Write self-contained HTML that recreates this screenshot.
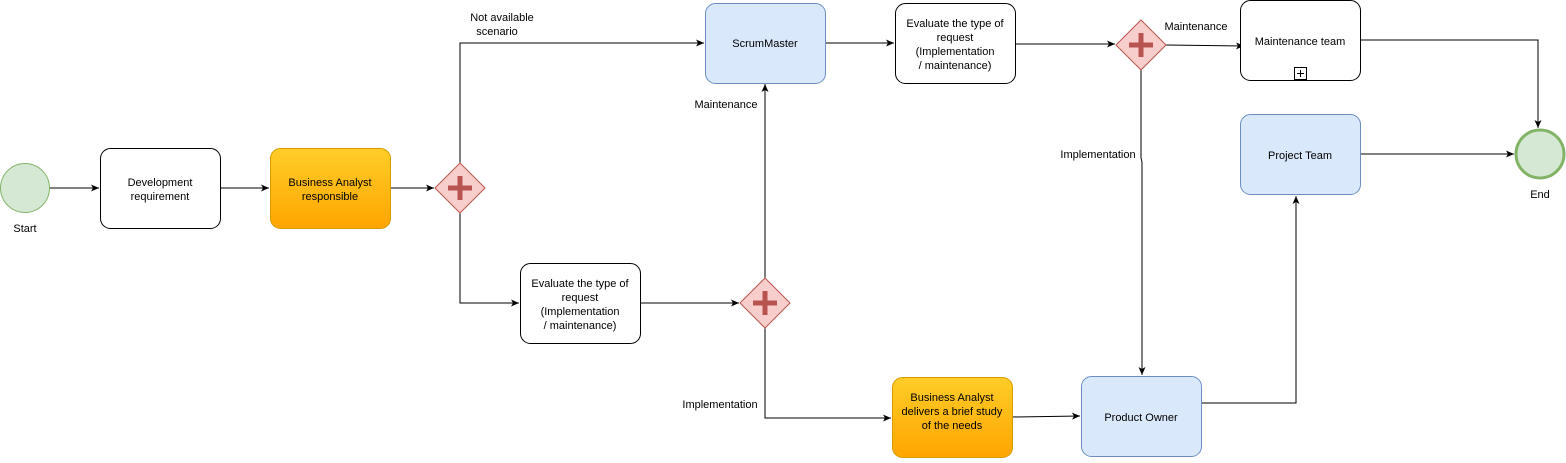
<!DOCTYPE html>
<html><head><meta charset="utf-8"><style>
html,body{margin:0;padding:0;background:#fff;}
text{font-family:"Liberation Sans",sans-serif;font-size:11px;fill:#000;}
</style></head><body>
<svg width="1566" height="458" viewBox="0 0 1566 458" xmlns="http://www.w3.org/2000/svg">
<defs>
<linearGradient id="og" x1="0" y1="0" x2="0" y2="1"><stop offset="0" stop-color="#ffcd28"/><stop offset="1" stop-color="#ffa500"/></linearGradient>
<marker id="a" markerWidth="10" markerHeight="10" refX="8" refY="5" orient="auto" markerUnits="userSpaceOnUse"><path d="M0,1.5 L8,5 L0,8.5 L2,5 Z" fill="#000"/></marker>
<g id="gw"><path d="M0,-25 L25,0 L0,25 L-25,0 Z" fill="#f8cecc" stroke="#b85450"/><path d="M-2.5,-12 h5 v9.5 h9.5 v5 h-9.5 v9.5 h-5 v-9.5 h-9.5 v-5 h9.5 z" fill="#b85450"/></g>
</defs>
<g fill="none" stroke="#000" stroke-width="1">
<path d="M50,188 H99" marker-end="url(#a)"/>
<path d="M220,188 H269" marker-end="url(#a)"/>
<path d="M390,188 H434" marker-end="url(#a)"/>
<path d="M460,163 V43 H704" marker-end="url(#a)"/>
<path d="M460,213 V303 H519" marker-end="url(#a)"/>
<path d="M640,303 H739" marker-end="url(#a)"/>
<path d="M765,278 V84" marker-end="url(#a)"/>
<path d="M765,328 V418 H891" marker-end="url(#a)"/>
<path d="M1012,417 L1080,416" marker-end="url(#a)"/>
<path d="M1201,403 H1296 V196" marker-end="url(#a)"/>
<path d="M1360,154 H1514" marker-end="url(#a)"/>
<path d="M825,43 H894" marker-end="url(#a)"/>
<path d="M1015,44 H1115" marker-end="url(#a)"/>
<path d="M1166,45 L1244,46" marker-end="url(#a)"/>
<path d="M1360,40 H1538 V128" marker-end="url(#a)"/>
<path d="M1141,70 V158 L1142,162 V375" marker-end="url(#a)"/>
</g>
<circle cx="25" cy="188" r="24.5" fill="#d5e8d4" stroke="#82b366"/>
<circle cx="1540" cy="154" r="24" fill="#d5e8d4" stroke="#82b366" stroke-width="3"/>
<rect x="100.5" y="148.5" width="120" height="80" rx="10" fill="#fff" stroke="#000"/>
<rect x="270.5" y="148.5" width="120" height="80" rx="10" fill="url(#og)" stroke="#d79b00"/>
<rect x="520.5" y="263.5" width="120" height="80" rx="10" fill="#fff" stroke="#000"/>
<rect x="705.5" y="3.5" width="120" height="80" rx="10" fill="#dae8fc" stroke="#6c8ebf"/>
<rect x="895.5" y="3.5" width="120" height="80" rx="10" fill="#fff" stroke="#000"/>
<rect x="1240.5" y="0.5" width="120" height="80" rx="10" fill="#fff" stroke="#000"/>
<rect x="1294.5" y="67.5" width="12" height="12" fill="#fff" stroke="#000"/>
<path d="M1300.5,70 V77 M1297,73.5 H1304" stroke="#000"/>
<rect x="1240.5" y="114.5" width="120" height="80" rx="10" fill="#dae8fc" stroke="#6c8ebf"/>
<rect x="892.5" y="377.5" width="120" height="80" rx="10" fill="url(#og)" stroke="#d79b00"/>
<rect x="1081.5" y="376.5" width="120" height="80" rx="10" fill="#dae8fc" stroke="#6c8ebf"/>
<use href="#gw" x="460" y="188"/>
<use href="#gw" x="765" y="303"/>
<use href="#gw" x="1141" y="45"/>
<g text-anchor="middle">
<text x="25" y="232">Start</text>
<text x="1540" y="198">End</text>
<text x="160" y="186">Development</text><text x="160" y="200">requirement</text>
<text x="330" y="186">Business Analyst</text><text x="330" y="200">responsible</text>
<text x="580" y="287">Evaluate the type of</text><text x="580" y="301">request</text><text x="580" y="315">(Implementation</text><text x="580" y="329">/ maintenance)</text>
<text x="765" y="47">ScrumMaster</text>
<text x="955" y="27">Evaluate the type of</text><text x="955" y="41">request</text><text x="955" y="55">(Implementation</text><text x="955" y="69">/ maintenance)</text>
<text x="1300" y="45">Maintenance team</text>
<text x="1300" y="159">Project Team</text>
<text x="952" y="401">Business Analyst</text><text x="952" y="415">delivers a brief study</text><text x="952" y="429">of the needs</text>
<text x="1141" y="421">Product Owner</text>
<text x="502" y="21">Not available</text><text x="497" y="35">scenario</text>
<text x="726" y="108">Maintenance</text>
<text x="720" y="408">Implementation</text>
<text x="1196" y="30">Maintenance</text>
<text x="1098" y="158">Implementation</text>
</g>
</svg>
</body></html>
